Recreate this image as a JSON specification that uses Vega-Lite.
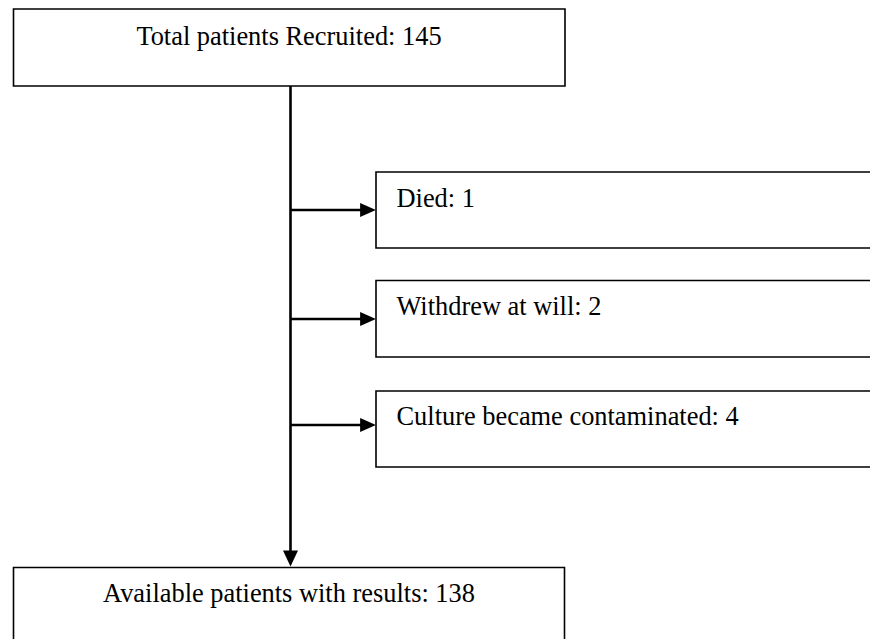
{
  "$schema": "https://vega.github.io/schema/vega-lite/v6.json",
  "width": 870,
  "height": 639,
  "autosize": {"type": "none"},
  "padding": 0,
  "background": "white",
  "config": {"view": {"stroke": null}},
  "datasets": {
    "boxes": [
      {"id": "top", "x1": 13.5, "x2": 565, "y1": 9, "y2": 86},
      {"id": "died", "x1": 376, "x2": 900, "y1": 172, "y2": 248},
      {"id": "withdrew", "x1": 376, "x2": 900, "y1": 280.5, "y2": 357},
      {"id": "culture", "x1": 376, "x2": 900, "y1": 391, "y2": 467},
      {"id": "bottom", "x1": 13.5, "x2": 564.5, "y1": 567.5, "y2": 720}
    ],
    "lines": [
      {"x1": 290.5, "x2": 290.5, "y1": 86, "y2": 555},
      {"x1": 290.5, "x2": 362, "y1": 210, "y2": 210},
      {"x1": 290.5, "x2": 362, "y1": 319, "y2": 319},
      {"x1": 290.5, "x2": 362, "y1": 425, "y2": 425}
    ],
    "arrows": [
      {"x": 368, "y": 210, "dir": "right"},
      {"x": 368, "y": 319, "dir": "right"},
      {"x": 368, "y": 425, "dir": "right"},
      {"x": 290.5, "y": 558.5, "dir": "down"}
    ],
    "labels": [
      {"label": "Total patients Recruited: 145", "x": 289, "y": 45, "align": "center"},
      {"label": "Died: 1", "x": 396.5, "y": 207, "align": "left"},
      {"label": "Withdrew at will: 2", "x": 396.5, "y": 315, "align": "left"},
      {"label": "Culture became contaminated: 4", "x": 396.5, "y": 425, "align": "left"},
      {"label": "Available patients with results: 138", "x": 289, "y": 602, "align": "center"}
    ]
  },
  "layer": [
    {
      "data": {"name": "boxes"},
      "mark": {"type": "rect", "fill": "white", "stroke": "black", "strokeWidth": 1.6, "clip": true},
      "encoding": {
        "x": {"field": "x1", "type": "quantitative", "scale": {"domain": [0, 870], "nice": false, "zero": false}, "axis": null},
        "x2": {"field": "x2"},
        "y": {"field": "y1", "type": "quantitative", "scale": {"domain": [0, 639], "reverse": true, "nice": false, "zero": false}, "axis": null},
        "y2": {"field": "y2"}
      }
    },
    {
      "data": {"name": "lines"},
      "mark": {"type": "rule", "color": "black", "strokeWidth": 2.6},
      "encoding": {
        "x": {"field": "x1", "type": "quantitative", "scale": {"domain": [0, 870], "nice": false, "zero": false}, "axis": null},
        "x2": {"field": "x2"},
        "y": {"field": "y1", "type": "quantitative", "scale": {"domain": [0, 639], "reverse": true, "nice": false, "zero": false}, "axis": null},
        "y2": {"field": "y2"}
      }
    },
    {
      "data": {"name": "arrows"},
      "mark": {"type": "point", "filled": true, "color": "black", "opacity": 1, "size": 250, "strokeWidth": 0},
      "encoding": {
        "x": {"field": "x", "type": "quantitative", "scale": {"domain": [0, 870], "nice": false, "zero": false}, "axis": null},
        "y": {"field": "y", "type": "quantitative", "scale": {"domain": [0, 639], "reverse": true, "nice": false, "zero": false}, "axis": null},
        "shape": {
          "field": "dir",
          "type": "nominal",
          "scale": {"domain": ["right", "down"], "range": ["M -1 -0.9 L 1 0 L -1 0.9 Z", "M -0.95 -1 L 0 1 L 0.95 -1 Z"]},
          "legend": null
        }
      }
    },
    {
      "data": {"name": "labels"},
      "transform": [{"filter": "datum.align === 'center'"}],
      "mark": {"type": "text", "font": "Liberation Serif", "fontSize": 26.4, "color": "black", "baseline": "alphabetic", "align": "center"},
      "encoding": {
        "x": {"field": "x", "type": "quantitative", "scale": {"domain": [0, 870], "nice": false, "zero": false}, "axis": null},
        "y": {"field": "y", "type": "quantitative", "scale": {"domain": [0, 639], "reverse": true, "nice": false, "zero": false}, "axis": null},
        "text": {"field": "label"}
      }
    },
    {
      "data": {"name": "labels"},
      "transform": [{"filter": "datum.align === 'left'"}],
      "mark": {"type": "text", "font": "Liberation Serif", "fontSize": 26.4, "color": "black", "baseline": "alphabetic", "align": "left"},
      "encoding": {
        "x": {"field": "x", "type": "quantitative", "scale": {"domain": [0, 870], "nice": false, "zero": false}, "axis": null},
        "y": {"field": "y", "type": "quantitative", "scale": {"domain": [0, 639], "reverse": true, "nice": false, "zero": false}, "axis": null},
        "text": {"field": "label"}
      }
    }
  ]
}
